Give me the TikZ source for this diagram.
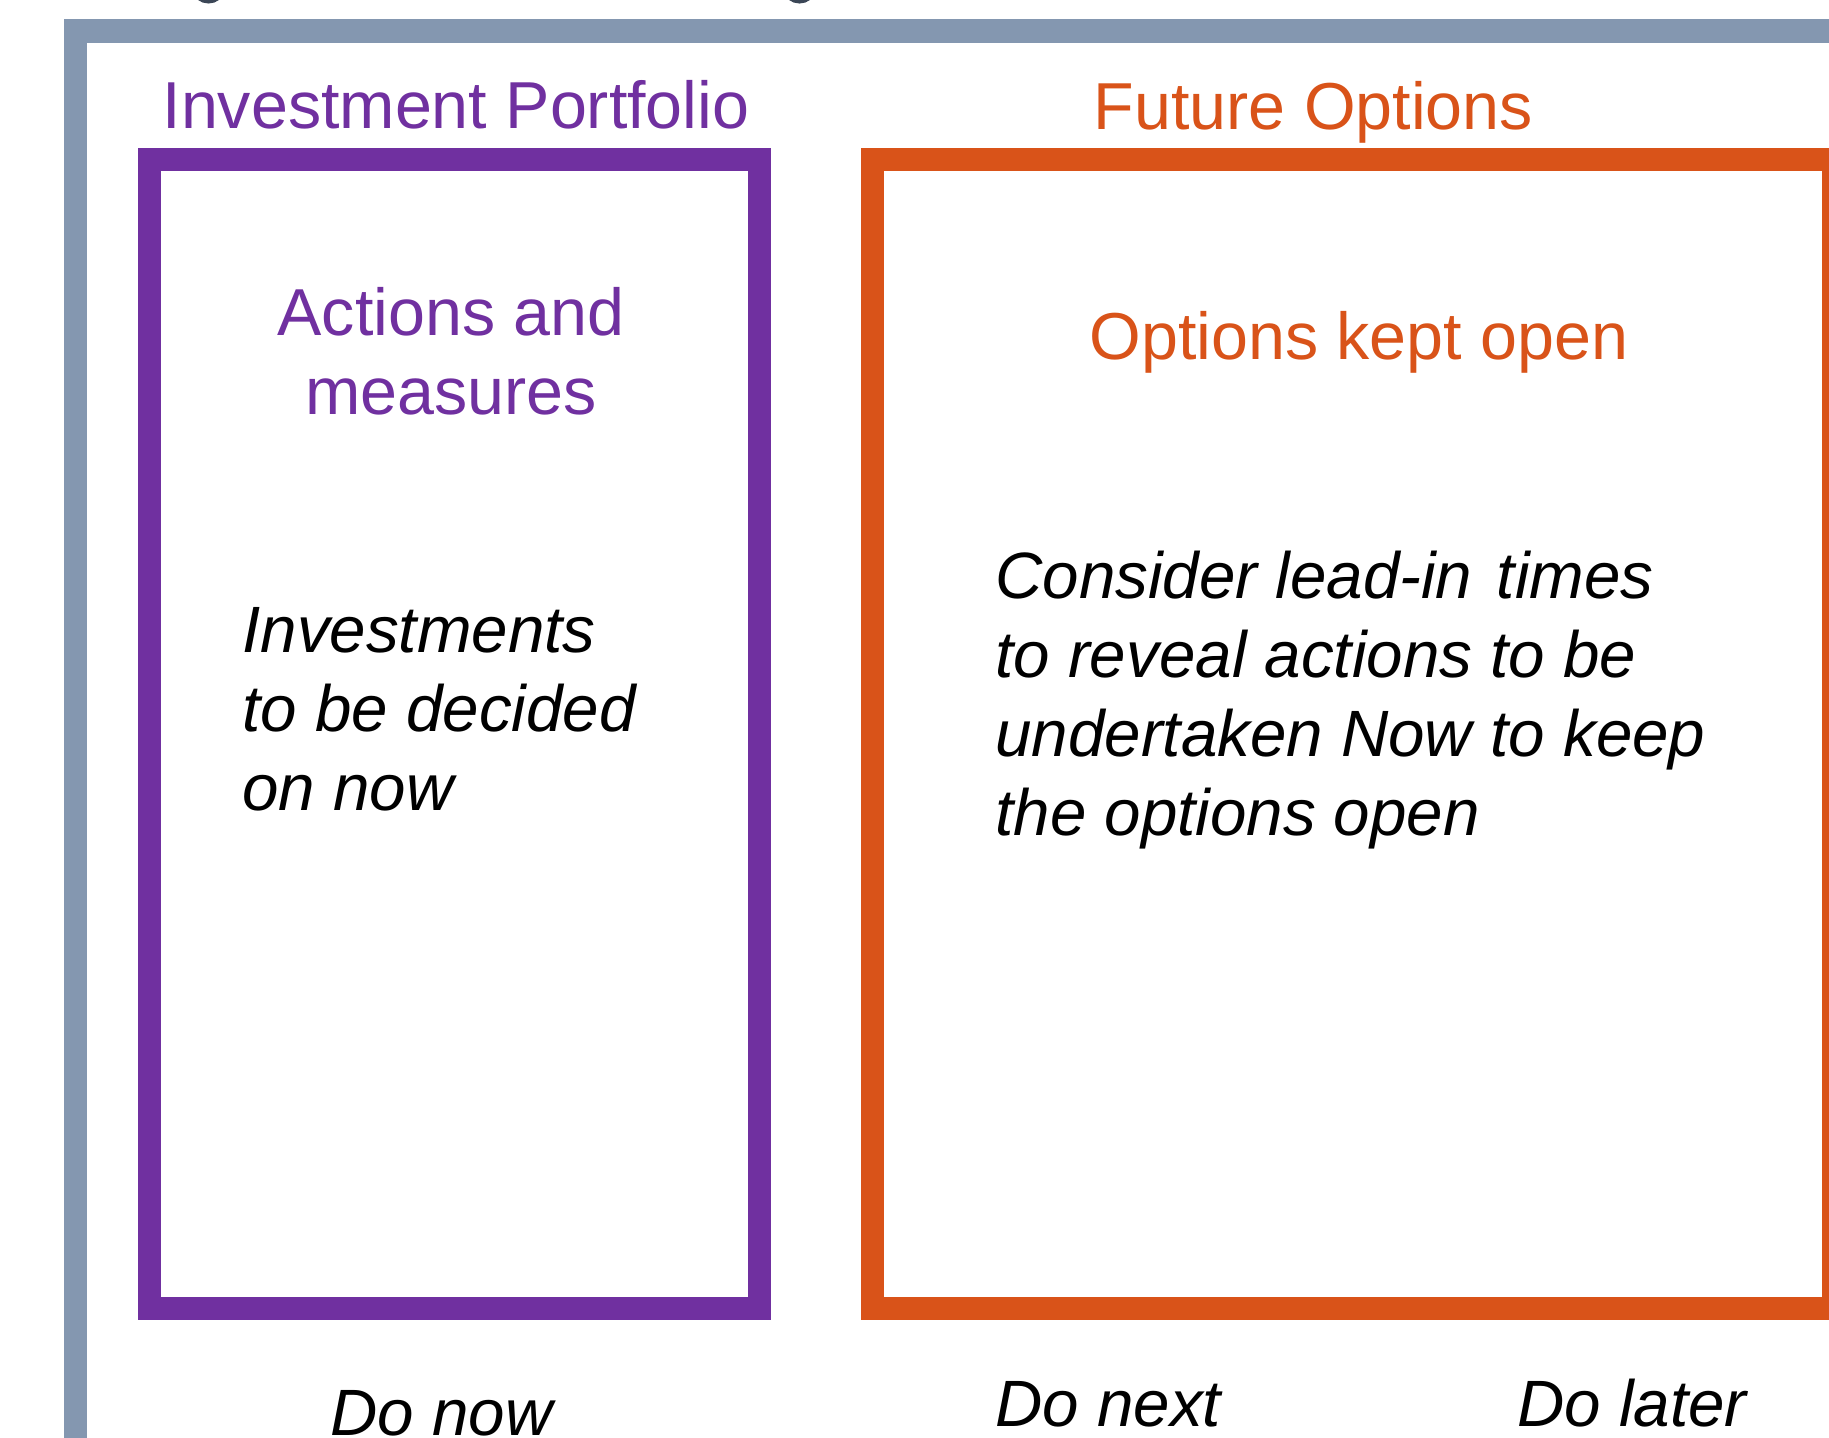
\documentclass[tikz,border=0pt]{standalone}
\usepackage{fontspec}
\setmainfont{Liberation Sans}
\usetikzlibrary{fit}
\definecolor{framegray}{HTML}{8497B0}
\definecolor{purp}{HTML}{7030A0}
\definecolor{orng}{HTML}{D95319}
\definecolor{slate}{HTML}{3B4656}
\tikzset{
  frame/.style={draw, inner sep=0pt, line width=11.75pt},
  boxframe/.style={draw, inner sep=0pt, line width=11.5pt},
  heading/.style={font=\fontsize{33.2}{39.5}\selectfont, inner sep=0pt},
  note/.style={font=\fontsize{32.75}{39.5}\selectfont\itshape, inner sep=0pt, align=left, anchor=base west},
}
\begin{document}
\begin{tikzpicture}[x=0.5pt, y=-0.5pt]
\useasboundingbox (0,0) rectangle (1829,1438);
\clip (0,0) rectangle (1829,1438);
\fill[white] (0,0) rectangle (1829,1438);

% bottoms of the caption glyphs above the frame
\draw[slate, line width=3.5pt] (208.5,-10) ellipse [x radius=12, y radius=10];
\draw[slate, line width=3.5pt] (799.5,-10) ellipse [x radius=12, y radius=10];

% outer gray frame (runs off the right and bottom edges)
\node[frame, draw=framegray, fit={(75.5,31) (1900,1520)}] (outer) {};

% the two boxes
\node[boxframe, draw=purp, fit={(149.5,159.5) (759.5,1308.5)}] (portfolio) {};
\node[boxframe, draw=orng, fit={(872.5,159.5) (1833.5,1308.5)}] (options) {};

% titles above the boxes
\node[heading, text=purp, anchor=base] (ptitle) at (456,129) {Investment Portfolio};
\node[heading, text=orng, anchor=base] (otitle) at (1313.5,130) {Future Options};

% headings inside the boxes (base anchor sits on the last line)
\node[heading, text=purp, anchor=base, align=center] (phead) at (451,415) {Actions and\\measures};
\node[heading, text=orng, anchor=base] (ohead) at (1359,360) {Options kept open};

% notes inside the boxes
\node[note] (pnote) at (242,810) {Investments\\to be decided\\on now};
\node[note] (onote) at (995,835) {Consider lead-in\hspace{0.1em} times\\to reveal actions to be\\undertaken Now to keep\\the options open};

% timing labels below the boxes
\node[note] (now) at (330,1435) {Do now};
\node[note] (next) at (995,1426) {Do next};
\node[note] (later) at (1517,1426) {Do later};
\end{tikzpicture}
\end{document}
